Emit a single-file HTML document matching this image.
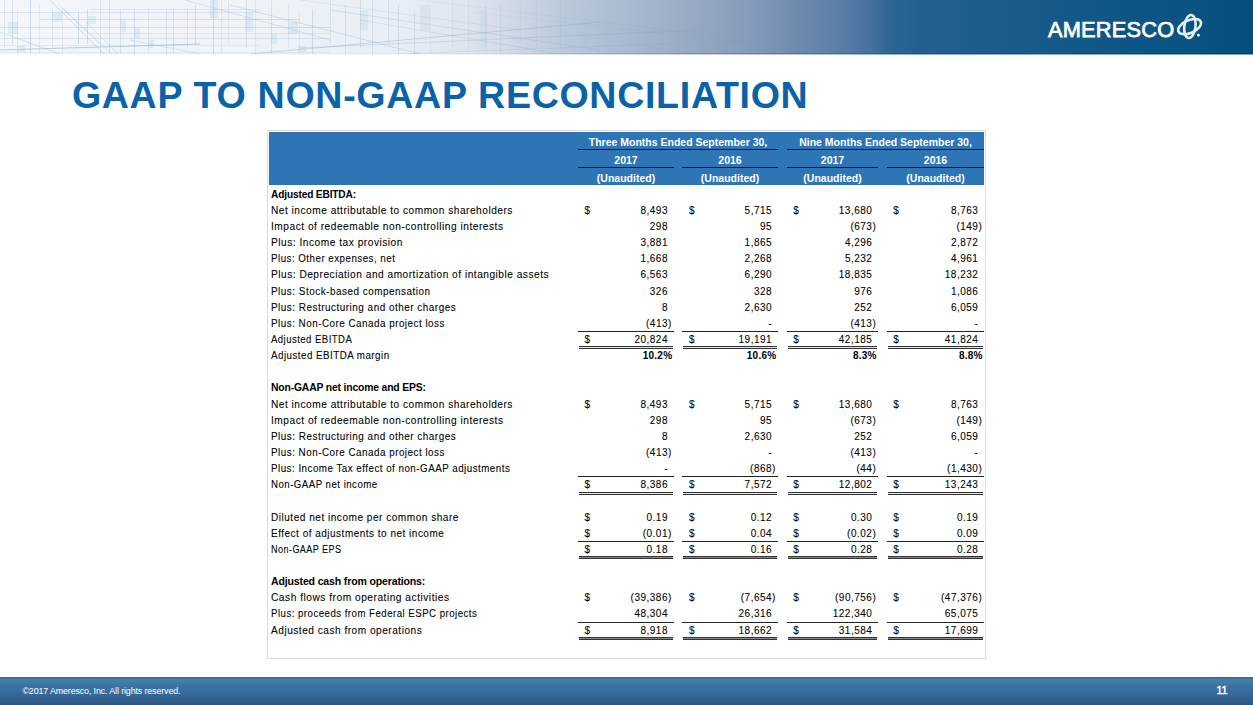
<!DOCTYPE html>
<html><head><meta charset="utf-8"><title>GAAP to Non-GAAP Reconciliation</title>
<style>
*{margin:0;padding:0;box-sizing:border-box}
html,body{width:1253px;height:705px;overflow:hidden;background:#fff;font-family:"Liberation Sans",sans-serif}
#banner{position:absolute;left:0;top:0;width:1253px;height:55px;background:linear-gradient(90deg,#f3f6fa 0px,#eff3f8 250px,#e8eef5 400px,#dce4ee 470px,#cdd7e4 520px,#bccadb 560px,#9badc5 680px,#8398b9 760px,#6d89ae 800px,#5a7fa8 840px,#46729f 870px,#2d6594 890px,#23608f 920px,#1b5c8b 1000px,#105787 1100px,#0a5382 1180px,#054e7c 1253px);overflow:hidden}
#title{position:absolute;left:71.9px;top:0;font-size:37.6px;letter-spacing:0.68px;font-weight:bold;color:#0a63a8;white-space:nowrap;line-height:37.6px}
#tbl{position:absolute;left:267px;top:130px;width:719px;height:529px;border:1px solid #dadada;background:#fff}
#hdr{position:absolute;left:269px;top:132px;width:715px;height:53px;background:#2e75b6}
.t{position:absolute;font-size:10px;line-height:10px;letter-spacing:0.5px;color:#000;white-space:nowrap;-webkit-text-stroke:0.08px #000}
.b{font-weight:bold;letter-spacing:-0.15px;-webkit-text-stroke:0}
.n .pr{position:absolute;left:100%}
.pc{letter-spacing:0.25px}
.ln{position:absolute;height:1px;background:#222}
.dl{position:absolute;height:3px;border-top:1px solid #333;border-bottom:1px solid #333}
.h{position:absolute;font-size:10.5px;line-height:10.5px;font-weight:bold;color:#fff;white-space:nowrap;text-align:center}
.hl{position:absolute;height:1px;background:#111}
#footer{position:absolute;left:0;top:677px;width:1253px;height:28px;background:linear-gradient(180deg,#2a69a1 0px,#2c6aa1 1px,#4680ad 2px,#3d74a4 8px,#386c9b 15px,#2c5682 28px)}
#copy{position:absolute;left:22.4px;top:0;font-size:8.9px;line-height:8.9px;color:#fff;letter-spacing:-0.12px;white-space:nowrap}
#pg{position:absolute;left:1216.5px;top:0;font-size:10.8px;line-height:10.8px;color:#fff;white-space:nowrap;-webkit-text-stroke:0.45px #fff;letter-spacing:-0.3px}
#logo{position:absolute;left:1048px;top:0;font-size:21.8px;line-height:21.8px;color:#fff;white-space:nowrap;-webkit-text-stroke:0.75px #fff;letter-spacing:0.2px}
#globe{position:absolute;left:1170px;top:8px}
</style></head><body>
<div id="banner"><svg id="bp" width="800" height="54" viewBox="0 0 800 54" style="position:absolute;left:0;top:0"><g stroke="#7f9fc2" stroke-width="1" fill="none"><line x1="4.5" y1="0" x2="4.5" y2="48" stroke-opacity="0.20"/><line x1="12.5" y1="0" x2="12.5" y2="44" stroke-opacity="0.26"/><line x1="17.5" y1="9" x2="17.5" y2="54" stroke-opacity="0.16"/><line x1="30.5" y1="0" x2="30.5" y2="54" stroke-opacity="0.30"/><line x1="39.5" y1="5" x2="39.5" y2="54" stroke-opacity="0.16"/><line x1="52.5" y1="9" x2="52.5" y2="48" stroke-opacity="0.18"/><line x1="62.5" y1="9" x2="62.5" y2="54" stroke-opacity="0.15"/><line x1="78.5" y1="12" x2="78.5" y2="44" stroke-opacity="0.31"/><line x1="87.5" y1="9" x2="87.5" y2="44" stroke-opacity="0.31"/><line x1="100.5" y1="0" x2="100.5" y2="54" stroke-opacity="0.21"/><line x1="109.5" y1="0" x2="109.5" y2="54" stroke-opacity="0.24"/><line x1="120.5" y1="9" x2="120.5" y2="54" stroke-opacity="0.22"/><line x1="134.5" y1="9" x2="134.5" y2="54" stroke-opacity="0.24"/><line x1="148.5" y1="9" x2="148.5" y2="54" stroke-opacity="0.16"/><line x1="166.5" y1="9" x2="166.5" y2="54" stroke-opacity="0.21"/><line x1="173.5" y1="9" x2="173.5" y2="54" stroke-opacity="0.24"/><line x1="187.5" y1="9" x2="187.5" y2="48" stroke-opacity="0.23"/><line x1="195.5" y1="5" x2="195.5" y2="44" stroke-opacity="0.28"/><line x1="213.5" y1="0" x2="213.5" y2="54" stroke-opacity="0.31"/><line x1="221.5" y1="0" x2="221.5" y2="54" stroke-opacity="0.18"/><line x1="228.5" y1="0" x2="228.5" y2="44" stroke-opacity="0.15"/><line x1="246.5" y1="0" x2="246.5" y2="48" stroke-opacity="0.23"/><line x1="255.5" y1="0" x2="255.5" y2="54" stroke-opacity="0.19"/><line x1="271.5" y1="0" x2="271.5" y2="54" stroke-opacity="0.23"/><line x1="288.5" y1="5" x2="288.5" y2="48" stroke-opacity="0.17"/><line x1="299.5" y1="12" x2="299.5" y2="54" stroke-opacity="0.15"/><line x1="312.5" y1="9" x2="312.5" y2="54" stroke-opacity="0.27"/><line x1="330.5" y1="0" x2="330.5" y2="44" stroke-opacity="0.19"/><line x1="345.5" y1="5" x2="345.5" y2="54" stroke-opacity="0.20"/><line x1="360.5" y1="0" x2="360.5" y2="48" stroke-opacity="0.25"/><line x1="372.5" y1="0" x2="372.5" y2="54" stroke-opacity="0.22"/><line x1="388.5" y1="0" x2="388.5" y2="44" stroke-opacity="0.21"/><line x1="398.5" y1="5" x2="398.5" y2="54" stroke-opacity="0.24"/><line x1="414.5" y1="12" x2="414.5" y2="54" stroke-opacity="0.20"/><line x1="430.5" y1="5" x2="430.5" y2="54" stroke-opacity="0.10"/><line x1="452.5" y1="0" x2="452.5" y2="48" stroke-opacity="0.11"/><line x1="468.5" y1="0" x2="468.5" y2="54" stroke-opacity="0.09"/><line x1="485.5" y1="5" x2="485.5" y2="48" stroke-opacity="0.15"/><line x1="500.5" y1="5" x2="500.5" y2="54" stroke-opacity="0.16"/><line x1="520.5" y1="5" x2="520.5" y2="44" stroke-opacity="0.08"/><line x1="536.5" y1="0" x2="536.5" y2="48" stroke-opacity="0.08"/><line x1="560.5" y1="0" x2="560.5" y2="48" stroke-opacity="0.11"/><line x1="585.5" y1="12" x2="585.5" y2="48" stroke-opacity="0.10"/><line x1="610.5" y1="0" x2="610.5" y2="54" stroke-opacity="0.08"/><line x1="90" y1="9.5" x2="260" y2="9.5" stroke-opacity="0.16"/><line x1="0" y1="12.5" x2="260" y2="12.5" stroke-opacity="0.19"/><line x1="40" y1="19.5" x2="300" y2="19.5" stroke-opacity="0.27"/><line x1="0" y1="27.5" x2="330" y2="27.5" stroke-opacity="0.26"/><line x1="90" y1="33.5" x2="330" y2="33.5" stroke-opacity="0.18"/><line x1="0" y1="38.5" x2="330" y2="38.5" stroke-opacity="0.22"/><line x1="0" y1="45.5" x2="260" y2="45.5" stroke-opacity="0.13"/><line x1="0" y1="52.5" x2="330" y2="52.5" stroke-opacity="0.15"/><line x1="50" y1="0" x2="104" y2="54" stroke-opacity="0.27"/><line x1="58" y1="4" x2="100" y2="44" stroke-opacity="0.21"/><line x1="62" y1="8" x2="112" y2="54" stroke-opacity="0.20"/><line x1="86" y1="22" x2="118" y2="54" stroke-opacity="0.23"/><line x1="185" y1="0" x2="330" y2="40" stroke-opacity="0.22"/><line x1="230" y1="5" x2="420" y2="54" stroke-opacity="0.26"/><line x1="300" y1="0" x2="520" y2="30" stroke-opacity="0.15"/><line x1="330" y1="10" x2="600" y2="50" stroke-opacity="0.23"/><line x1="360" y1="20" x2="560" y2="54" stroke-opacity="0.20"/><line x1="420" y1="0" x2="700" y2="34" stroke-opacity="0.09"/><line x1="470" y1="12" x2="760" y2="44" stroke-opacity="0.06"/><line x1="540" y1="30" x2="700" y2="54" stroke-opacity="0.06"/><line x1="0" y1="32" x2="60" y2="54" stroke-opacity="0.27"/><line x1="130" y1="40" x2="200" y2="54" stroke-opacity="0.22"/><line x1="0" y1="50" x2="200" y2="44" stroke-opacity="0.50"/><line x1="250" y1="54" x2="600" y2="22" stroke-opacity="0.35"/><line x1="300" y1="48" x2="700" y2="30" stroke-opacity="0.26"/><line x1="400" y1="54" x2="760" y2="40" stroke-opacity="0.17"/></g><g fill="#a9c6e0"><rect x="8" y="22" width="10" height="12" fill-opacity="0.25"/><rect x="17" y="46" width="8" height="6" fill-opacity="0.25"/><rect x="52" y="12" width="10" height="10" fill-opacity="0.25"/><rect x="88" y="16" width="8" height="8" fill-opacity="0.25"/><rect x="120" y="20" width="6" height="12" fill-opacity="0.25"/><rect x="134" y="28" width="6" height="10" fill-opacity="0.25"/><rect x="148" y="40" width="6" height="8" fill-opacity="0.25"/><rect x="210" y="0" width="8" height="18" fill-opacity="0.25"/><rect x="245" y="12" width="8" height="20" fill-opacity="0.25"/><rect x="271" y="34" width="6" height="10" fill-opacity="0.25"/><rect x="288" y="22" width="10" height="12" fill-opacity="0.25"/><rect x="298" y="46" width="8" height="6" fill-opacity="0.25"/><rect x="360" y="10" width="8" height="20" fill-opacity="0.21"/><rect x="420" y="5" width="10" height="25" fill-opacity="0.18"/><rect x="480" y="10" width="8" height="40" fill-opacity="0.14"/><rect x="560" y="20" width="8" height="30" fill-opacity="0.10"/></g></svg><div style="position:absolute;left:0;top:53px;width:1253px;height:1px;background:linear-gradient(90deg,rgba(120,150,190,0) 0px,rgba(120,150,190,.1) 500px,rgba(40,80,130,.35) 750px,rgba(0,50,90,.45))"></div><div style="position:absolute;left:0;top:54px;width:1253px;height:1px;background:rgba(255,255,255,.5)"></div></div>
<div id="logo" style="top:18.95px">AMERESCO</div>
<svg id="globe" width="40" height="36" viewBox="1170 8 40 36"><g fill="none" stroke="#e4f1f9" stroke-width="2.6"><ellipse cx="1189.9" cy="26.5" rx="5.6" ry="11.6" transform="rotate(7 1189.9 26.5)"/><ellipse cx="1189.6" cy="26.6" rx="12.2" ry="6.4" transform="rotate(-24 1189.6 26.6)"/></g><circle cx="1198.4" cy="35.2" r="1.4" fill="#eef6fb"/></svg>
<div id="title" style="top:76.57px">GAAP TO NON-GAAP RECONCILIATION</div>
<div id="tbl"></div>
<div id="hdr"></div>
<div class="h" style="left:578px;width:200px;top:137.11px">Three Months Ended September 30,</div>
<div class="h" style="left:785.5px;width:200px;top:137.11px">Nine Months Ended September 30,</div>
<div class="h" style="left:526px;width:200px;top:154.61px">2017</div>
<div class="h" style="left:526px;width:200px;top:172.61px">(Unaudited)</div>
<div class="h" style="left:630px;width:200px;top:154.61px">2016</div>
<div class="h" style="left:630px;width:200px;top:172.61px">(Unaudited)</div>
<div class="h" style="left:732.5px;width:200px;top:154.61px">2017</div>
<div class="h" style="left:732.5px;width:200px;top:172.61px">(Unaudited)</div>
<div class="h" style="left:835.5px;width:200px;top:154.61px">2016</div>
<div class="h" style="left:835.5px;width:200px;top:172.61px">(Unaudited)</div>
<div class="hl" style="left:578px;width:200px;top:149px"></div>
<div class="hl" style="left:787px;width:197px;top:149px"></div>
<div class="hl" style="left:578px;width:96px;top:167px"></div>
<div class="hl" style="left:682px;width:96px;top:167px"></div>
<div class="hl" style="left:787px;width:91px;top:167px"></div>
<div class="hl" style="left:887px;width:97px;top:167px"></div>
<div class="t b" style="left:270.8px;top:189.73px;transform:scaleX(1.0145);transform-origin:0 0">Adjusted EBITDA:</div>
<div class="t" style="left:270.8px;top:205.87px;transform:scaleX(1.0135);transform-origin:0 0">Net income attributable to common shareholders</div>
<div class="t" style="left:584.6px;top:205.87px">$</div>
<div class="t n" style="right:585px;top:205.87px">8,493</div>
<div class="t" style="left:689px;top:205.87px">$</div>
<div class="t n" style="right:480.9px;top:205.87px">5,715</div>
<div class="t" style="left:793.3px;top:205.87px">$</div>
<div class="t n" style="right:380.6px;top:205.87px">13,680</div>
<div class="t" style="left:893.2px;top:205.87px">$</div>
<div class="t n" style="right:274.6px;top:205.87px">8,763</div>
<div class="t" style="left:270.8px;top:222.01px;transform:scaleX(1.0167);transform-origin:0 0">Impact of redeemable non-controlling interests</div>
<div class="t n" style="right:585px;top:222.01px">298</div>
<div class="t n" style="right:480.9px;top:222.01px">95</div>
<div class="t n" style="right:380.6px;top:222.01px">(673<span class="pr">)</span></div>
<div class="t n" style="right:274.6px;top:222.01px">(149<span class="pr">)</span></div>
<div class="t" style="left:270.8px;top:238.16px;transform:scaleX(1.0171);transform-origin:0 0">Plus: Income tax provision</div>
<div class="t n" style="right:585px;top:238.16px">3,881</div>
<div class="t n" style="right:480.9px;top:238.16px">1,865</div>
<div class="t n" style="right:380.6px;top:238.16px">4,296</div>
<div class="t n" style="right:274.6px;top:238.16px">2,872</div>
<div class="t" style="left:270.8px;top:254.29px;transform:scaleX(0.9748);transform-origin:0 0">Plus: Other expenses, net</div>
<div class="t n" style="right:585px;top:254.29px">1,668</div>
<div class="t n" style="right:480.9px;top:254.29px">2,268</div>
<div class="t n" style="right:380.6px;top:254.29px">5,232</div>
<div class="t n" style="right:274.6px;top:254.29px">4,961</div>
<div class="t" style="left:270.8px;top:270.44px;transform:scaleX(1.0139);transform-origin:0 0">Plus: Depreciation and amortization of intangible assets</div>
<div class="t n" style="right:585px;top:270.44px">6,563</div>
<div class="t n" style="right:480.9px;top:270.44px">6,290</div>
<div class="t n" style="right:380.6px;top:270.44px">18,835</div>
<div class="t n" style="right:274.6px;top:270.44px">18,232</div>
<div class="t" style="left:270.8px;top:286.57px;transform:scaleX(0.9925);transform-origin:0 0">Plus: Stock-based compensation</div>
<div class="t n" style="right:585px;top:286.57px">326</div>
<div class="t n" style="right:480.9px;top:286.57px">328</div>
<div class="t n" style="right:380.6px;top:286.57px">976</div>
<div class="t n" style="right:274.6px;top:286.57px">1,086</div>
<div class="t" style="left:270.8px;top:302.72px;transform:scaleX(0.9935);transform-origin:0 0">Plus: Restructuring and other charges</div>
<div class="t n" style="right:585px;top:302.72px">8</div>
<div class="t n" style="right:480.9px;top:302.72px">2,630</div>
<div class="t n" style="right:380.6px;top:302.72px">252</div>
<div class="t n" style="right:274.6px;top:302.72px">6,059</div>
<div class="t" style="left:270.8px;top:318.86px;transform:scaleX(0.9851);transform-origin:0 0">Plus: Non-Core Canada project loss</div>
<div class="t n" style="right:585px;top:318.86px">(413<span class="pr">)</span></div>
<div class="t n" style="right:480.9px;top:318.86px">-</div>
<div class="t n" style="right:380.6px;top:318.86px">(413<span class="pr">)</span></div>
<div class="t n" style="right:274.6px;top:318.86px">-</div>
<div class="ln" style="left:578px;width:96px;top:331px"></div>
<div class="ln" style="left:682px;width:96px;top:331px"></div>
<div class="ln" style="left:787px;width:91px;top:331px"></div>
<div class="ln" style="left:887px;width:97px;top:331px"></div>
<div class="t" style="left:270.8px;top:335px;transform:scaleX(0.9528);transform-origin:0 0">Adjusted EBITDA</div>
<div class="t" style="left:584.6px;top:335px">$</div>
<div class="t n" style="right:585px;top:335px">20,824</div>
<div class="t" style="left:689px;top:335px">$</div>
<div class="t n" style="right:480.9px;top:335px">19,191</div>
<div class="t" style="left:793.3px;top:335px">$</div>
<div class="t n" style="right:380.6px;top:335px">42,185</div>
<div class="t" style="left:893.2px;top:335px">$</div>
<div class="t n" style="right:274.6px;top:335px">41,824</div>
<div class="dl" style="left:579px;width:94px;top:346px;background:#e4e4e4"></div>
<div class="dl" style="left:683px;width:94px;top:346px;background:#e4e4e4"></div>
<div class="dl" style="left:788px;width:89px;top:346px;background:#e4e4e4"></div>
<div class="dl" style="left:888px;width:95px;top:346px;background:#e4e4e4"></div>
<div class="t" style="left:270.8px;top:351.14px;transform:scaleX(0.9750);transform-origin:0 0">Adjusted EBITDA margin</div>
<div class="t n b pc" style="right:580.7px;top:351.14px">10.2%</div>
<div class="t n b pc" style="right:476.6px;top:351.14px">10.6%</div>
<div class="t n b pc" style="right:376.3px;top:351.14px">8.3%</div>
<div class="t n b pc" style="right:270.3px;top:351.14px">8.8%</div>
<div class="t b" style="left:270.8px;top:383.42px;transform:scaleX(1.0350);transform-origin:0 0">Non-GAAP net income and EPS:</div>
<div class="t" style="left:270.8px;top:399.56px;transform:scaleX(1.0135);transform-origin:0 0">Net income attributable to common shareholders</div>
<div class="t" style="left:584.6px;top:399.56px">$</div>
<div class="t n" style="right:585px;top:399.56px">8,493</div>
<div class="t" style="left:689px;top:399.56px">$</div>
<div class="t n" style="right:480.9px;top:399.56px">5,715</div>
<div class="t" style="left:793.3px;top:399.56px">$</div>
<div class="t n" style="right:380.6px;top:399.56px">13,680</div>
<div class="t" style="left:893.2px;top:399.56px">$</div>
<div class="t n" style="right:274.6px;top:399.56px">8,763</div>
<div class="t" style="left:270.8px;top:415.69px;transform:scaleX(1.0167);transform-origin:0 0">Impact of redeemable non-controlling interests</div>
<div class="t n" style="right:585px;top:415.69px">298</div>
<div class="t n" style="right:480.9px;top:415.69px">95</div>
<div class="t n" style="right:380.6px;top:415.69px">(673<span class="pr">)</span></div>
<div class="t n" style="right:274.6px;top:415.69px">(149<span class="pr">)</span></div>
<div class="t" style="left:270.8px;top:431.84px;transform:scaleX(0.9935);transform-origin:0 0">Plus: Restructuring and other charges</div>
<div class="t n" style="right:585px;top:431.84px">8</div>
<div class="t n" style="right:480.9px;top:431.84px">2,630</div>
<div class="t n" style="right:380.6px;top:431.84px">252</div>
<div class="t n" style="right:274.6px;top:431.84px">6,059</div>
<div class="t" style="left:270.8px;top:447.98px;transform:scaleX(0.9851);transform-origin:0 0">Plus: Non-Core Canada project loss</div>
<div class="t n" style="right:585px;top:447.98px">(413<span class="pr">)</span></div>
<div class="t n" style="right:480.9px;top:447.98px">-</div>
<div class="t n" style="right:380.6px;top:447.98px">(413<span class="pr">)</span></div>
<div class="t n" style="right:274.6px;top:447.98px">-</div>
<div class="t" style="left:270.8px;top:464.12px;transform:scaleX(0.9778);transform-origin:0 0">Plus: Income Tax effect of non-GAAP adjustments</div>
<div class="t n" style="right:585px;top:464.12px">-</div>
<div class="t n" style="right:480.9px;top:464.12px">(868<span class="pr">)</span></div>
<div class="t n" style="right:380.6px;top:464.12px">(44<span class="pr">)</span></div>
<div class="t n" style="right:274.6px;top:464.12px">(1,430<span class="pr">)</span></div>
<div class="ln" style="left:578px;width:96px;top:476px"></div>
<div class="ln" style="left:682px;width:96px;top:476px"></div>
<div class="ln" style="left:787px;width:91px;top:476px"></div>
<div class="ln" style="left:887px;width:97px;top:476px"></div>
<div class="t" style="left:270.8px;top:480.25px;transform:scaleX(0.9654);transform-origin:0 0">Non-GAAP net income</div>
<div class="t" style="left:584.6px;top:480.25px">$</div>
<div class="t n" style="right:585px;top:480.25px">8,386</div>
<div class="t" style="left:689px;top:480.25px">$</div>
<div class="t n" style="right:480.9px;top:480.25px">7,572</div>
<div class="t" style="left:793.3px;top:480.25px">$</div>
<div class="t n" style="right:380.6px;top:480.25px">12,802</div>
<div class="t" style="left:893.2px;top:480.25px">$</div>
<div class="t n" style="right:274.6px;top:480.25px">13,243</div>
<div class="dl" style="left:579px;width:94px;top:492px;background:#e4e4e4"></div>
<div class="dl" style="left:683px;width:94px;top:492px;background:#e4e4e4"></div>
<div class="dl" style="left:788px;width:89px;top:492px;background:#e4e4e4"></div>
<div class="dl" style="left:888px;width:95px;top:492px;background:#e4e4e4"></div>
<div class="t" style="left:270.8px;top:512.53px;transform:scaleX(1.0075);transform-origin:0 0">Diluted net income per common share</div>
<div class="t" style="left:584.6px;top:512.53px">$</div>
<div class="t n" style="right:585px;top:512.53px">0.19</div>
<div class="t" style="left:689px;top:512.53px">$</div>
<div class="t n" style="right:480.9px;top:512.53px">0.12</div>
<div class="t" style="left:793.3px;top:512.53px">$</div>
<div class="t n" style="right:380.6px;top:512.53px">0.30</div>
<div class="t" style="left:893.2px;top:512.53px">$</div>
<div class="t n" style="right:274.6px;top:512.53px">0.19</div>
<div class="t" style="left:270.8px;top:528.67px;transform:scaleX(0.9988);transform-origin:0 0">Effect of adjustments to net income</div>
<div class="t" style="left:584.6px;top:528.67px">$</div>
<div class="t n" style="right:585px;top:528.67px">(0.01<span class="pr">)</span></div>
<div class="t" style="left:689px;top:528.67px">$</div>
<div class="t n" style="right:480.9px;top:528.67px">0.04</div>
<div class="t" style="left:793.3px;top:528.67px">$</div>
<div class="t n" style="right:380.6px;top:528.67px">(0.02<span class="pr">)</span></div>
<div class="t" style="left:893.2px;top:528.67px">$</div>
<div class="t n" style="right:274.6px;top:528.67px">0.09</div>
<div class="ln" style="left:578px;width:96px;top:541px"></div>
<div class="ln" style="left:682px;width:96px;top:541px"></div>
<div class="ln" style="left:787px;width:91px;top:541px"></div>
<div class="ln" style="left:887px;width:97px;top:541px"></div>
<div class="t" style="left:270.8px;top:544.81px;transform:scaleX(0.9035);transform-origin:0 0">Non-GAAP EPS</div>
<div class="t" style="left:584.6px;top:544.81px">$</div>
<div class="t n" style="right:585px;top:544.81px">0.18</div>
<div class="t" style="left:689px;top:544.81px">$</div>
<div class="t n" style="right:480.9px;top:544.81px">0.16</div>
<div class="t" style="left:793.3px;top:544.81px">$</div>
<div class="t n" style="right:380.6px;top:544.81px">0.28</div>
<div class="t" style="left:893.2px;top:544.81px">$</div>
<div class="t n" style="right:274.6px;top:544.81px">0.28</div>
<div class="dl" style="left:579px;width:94px;top:556px;background:#8a8a8a"></div>
<div class="dl" style="left:683px;width:94px;top:556px;background:#8a8a8a"></div>
<div class="dl" style="left:788px;width:89px;top:556px;background:#8a8a8a"></div>
<div class="dl" style="left:888px;width:95px;top:556px;background:#8a8a8a"></div>
<div class="t b" style="left:270.8px;top:577.09px;transform:scaleX(1.0553);transform-origin:0 0">Adjusted cash from operations:</div>
<div class="t" style="left:270.8px;top:593.24px;transform:scaleX(1.0184);transform-origin:0 0">Cash flows from operating activities</div>
<div class="t" style="left:584.6px;top:593.24px">$</div>
<div class="t n" style="right:585px;top:593.24px">(39,386<span class="pr">)</span></div>
<div class="t" style="left:689px;top:593.24px">$</div>
<div class="t n" style="right:480.9px;top:593.24px">(7,654<span class="pr">)</span></div>
<div class="t" style="left:793.3px;top:593.24px">$</div>
<div class="t n" style="right:380.6px;top:593.24px">(90,756<span class="pr">)</span></div>
<div class="t" style="left:893.2px;top:593.24px">$</div>
<div class="t n" style="right:274.6px;top:593.24px">(47,376<span class="pr">)</span></div>
<div class="t" style="left:270.8px;top:609.37px;transform:scaleX(0.9643);transform-origin:0 0">Plus: proceeds from Federal ESPC projects</div>
<div class="t n" style="right:585px;top:609.37px">48,304</div>
<div class="t n" style="right:480.9px;top:609.37px">26,316</div>
<div class="t n" style="right:380.6px;top:609.37px">122,340</div>
<div class="t n" style="right:274.6px;top:609.37px">65,075</div>
<div class="ln" style="left:578px;width:96px;top:622px"></div>
<div class="ln" style="left:682px;width:96px;top:622px"></div>
<div class="ln" style="left:787px;width:91px;top:622px"></div>
<div class="ln" style="left:887px;width:97px;top:622px"></div>
<div class="t" style="left:270.8px;top:625.51px;transform:scaleX(1.0109);transform-origin:0 0">Adjusted cash from operations</div>
<div class="t" style="left:584.6px;top:625.51px">$</div>
<div class="t n" style="right:585px;top:625.51px">8,918</div>
<div class="t" style="left:689px;top:625.51px">$</div>
<div class="t n" style="right:480.9px;top:625.51px">18,662</div>
<div class="t" style="left:793.3px;top:625.51px">$</div>
<div class="t n" style="right:380.6px;top:625.51px">31,584</div>
<div class="t" style="left:893.2px;top:625.51px">$</div>
<div class="t n" style="right:274.6px;top:625.51px">17,699</div>
<div class="dl" style="left:579px;width:94px;top:637px;background:#8a8a8a"></div>
<div class="dl" style="left:683px;width:94px;top:637px;background:#8a8a8a"></div>
<div class="dl" style="left:788px;width:89px;top:637px;background:#8a8a8a"></div>
<div class="dl" style="left:888px;width:95px;top:637px;background:#8a8a8a"></div>
<div id="footer"><div id="copy" style="top:9.77px">&copy;2017 Ameresco, Inc. All rights reserved.</div><div id="pg" style="top:7.96px">11</div></div>
</body></html>
